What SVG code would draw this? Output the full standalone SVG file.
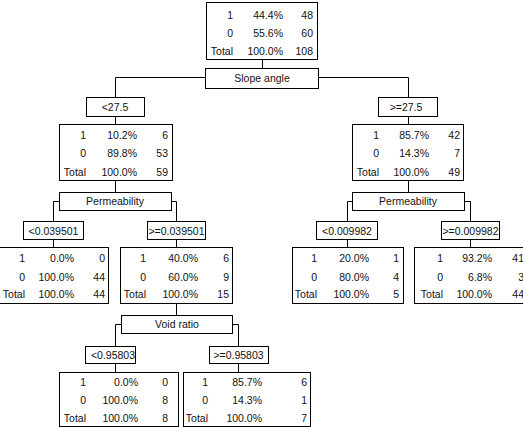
<svg xmlns="http://www.w3.org/2000/svg" width="523" height="427" viewBox="0 0 523 427">
<style>
rect{fill:#fff;stroke:#000;stroke-width:1}
text{font-family:"Liberation Sans",Arial,sans-serif;font-size:10.5px;fill:#111}
.e{text-anchor:end}
.m{text-anchor:middle}
.c path{fill:none;stroke:#000;stroke-width:1}
</style>
<rect x="0" y="0" width="523" height="427" style="stroke:none"/>
<g class="c" id="connectors">
<path d="M262.5 59 V68"/>
<path d="M205 77.5 H115.5 V97"/>
<path d="M318 77.5 H408.5 V97"/>
<path d="M115.5 116 V124"/>
<path d="M408.5 116 V124"/>
<path d="M115.5 180 V192"/>
<path d="M408.5 180 V192"/>
<path d="M59 201.5 H53.5 V221"/>
<path d="M171 201.5 H176.5 V221"/>
<path d="M352 201.5 H347.5 V221"/>
<path d="M464 201.5 H470.5 V221"/>
<path d="M53.5 239 V247"/>
<path d="M176.5 239 V247"/>
<path d="M347.5 239 V247"/>
<path d="M470.5 239 V247"/>
<path d="M176.5 303 V315"/>
<path d="M121 324.5 H115.5 V346"/>
<path d="M232 324.5 H238.5 V346"/>
<path d="M115.5 363 V372"/>
<path d="M238.5 363 V372"/>
</g>
<g id="node0">
<rect x="206.5" y="2.5" width="111" height="57"/>
<text class="e" x="233" y="19">1</text><text class="e" x="283" y="19">44.4%</text><text class="e" x="313" y="19">48</text>
<text class="e" x="233" y="37">0</text><text class="e" x="283" y="37">55.6%</text><text class="e" x="313" y="37">60</text>
<text class="e" x="233" y="55">Total</text><text class="e" x="283" y="55">100.0%</text><text class="e" x="313" y="55">108</text>
</g>
<g id="split0">
<rect x="205.5" y="68.5" width="113" height="20"/>
<text class="m" x="262" y="82">Slope angle</text>
</g>
<g id="label-lt27.5">
<rect x="86.5" y="97.5" width="58" height="19"/>
<text class="m" x="115" y="110.5">&lt;27.5</text>
</g>
<g id="label-ge27.5">
<rect x="378.5" y="97.5" width="59" height="19"/>
<text class="m" x="406" y="110.5">&gt;=27.5</text>
</g>
<g id="node1">
<rect x="59.5" y="124.5" width="113" height="56"/>
<text class="e" x="86" y="139">1</text><text class="e" x="137" y="139">10.2%</text><text class="e" x="168" y="139">6</text>
<text class="e" x="86" y="157">0</text><text class="e" x="137" y="157">89.8%</text><text class="e" x="168" y="157">53</text>
<text class="e" x="86" y="176">Total</text><text class="e" x="137" y="176">100.0%</text><text class="e" x="168" y="176">59</text>
</g>
<g id="node2">
<rect x="352.5" y="124.5" width="111" height="56"/>
<text class="e" x="379" y="139">1</text><text class="e" x="429" y="139">85.7%</text><text class="e" x="460" y="139">42</text>
<text class="e" x="379" y="157">0</text><text class="e" x="429" y="157">14.3%</text><text class="e" x="460" y="157">7</text>
<text class="e" x="379" y="176">Total</text><text class="e" x="429" y="176">100.0%</text><text class="e" x="460" y="176">49</text>
</g>
<g id="split1">
<rect x="59.5" y="192.5" width="112" height="18"/>
<text class="m" x="115" y="205">Permeability</text>
</g>
<g id="split2">
<rect x="352.5" y="192.5" width="112" height="18"/>
<text class="m" x="408" y="205">Permeability</text>
</g>
<g id="label-lt0.039501">
<rect x="23.5" y="221.5" width="60" height="18"/>
<text class="m" x="53.5" y="234.5">&lt;0.039501</text>
</g>
<g id="label-ge0.039501">
<rect x="147.5" y="221.5" width="58" height="18"/>
<text class="m" x="176.5" y="234.5">&gt;=0.039501</text>
</g>
<g id="label-lt0.009982">
<rect x="316.5" y="221.5" width="61" height="18"/>
<text class="m" x="347" y="234.5">&lt;0.009982</text>
</g>
<g id="label-ge0.009982">
<rect x="441.5" y="221.5" width="58" height="18"/>
<text class="m" x="470.5" y="234.5">&gt;=0.009982</text>
</g>
<g id="node3">
<rect x="-4.5" y="247.5" width="113" height="56"/>
<text class="e" x="25" y="262">1</text><text class="e" x="74" y="262">0.0%</text><text class="e" x="105" y="262">0</text>
<text class="e" x="25" y="281">0</text><text class="e" x="74" y="281">100.0%</text><text class="e" x="105" y="281">44</text>
<text class="e" x="25" y="298">Total</text><text class="e" x="74" y="298">100.0%</text><text class="e" x="105" y="298">44</text>
</g>
<g id="node4">
<rect x="120.5" y="247.5" width="112" height="56"/>
<text class="e" x="146" y="262">1</text><text class="e" x="198" y="262">40.0%</text><text class="e" x="229" y="262">6</text>
<text class="e" x="146" y="281">0</text><text class="e" x="198" y="281">60.0%</text><text class="e" x="229" y="281">9</text>
<text class="e" x="146" y="298">Total</text><text class="e" x="198" y="298">100.0%</text><text class="e" x="229" y="298">15</text>
</g>
<g id="node5">
<rect x="292.5" y="247.5" width="111" height="56"/>
<text class="e" x="317" y="262">1</text><text class="e" x="369" y="262">20.0%</text><text class="e" x="399" y="262">1</text>
<text class="e" x="317" y="281">0</text><text class="e" x="369" y="281">80.0%</text><text class="e" x="399" y="281">4</text>
<text class="e" x="317" y="298">Total</text><text class="e" x="369" y="298">100.0%</text><text class="e" x="399" y="298">5</text>
</g>
<g id="node6">
<rect x="414.5" y="247.5" width="112" height="56"/>
<text class="e" x="443" y="262">1</text><text class="e" x="492" y="262">93.2%</text><text class="e" x="524" y="262">41</text>
<text class="e" x="443" y="281">0</text><text class="e" x="492" y="281">6.8%</text><text class="e" x="524" y="281">3</text>
<text class="e" x="443" y="298">Total</text><text class="e" x="492" y="298">100.0%</text><text class="e" x="524" y="298">44</text>
</g>
<g id="split3">
<rect x="121.5" y="315.5" width="111" height="18"/>
<text class="m" x="177" y="328">Void ratio</text>
</g>
<g id="label-lt0.95803">
<rect x="85.5" y="346.5" width="50" height="17"/>
<text class="m" x="113" y="358.5">&lt;0.95803</text>
</g>
<g id="label-ge0.95803">
<rect x="209.5" y="346.5" width="59" height="17"/>
<text class="m" x="238.5" y="358.5">&gt;=0.95803</text>
</g>
<g id="node7">
<rect x="59.5" y="372.5" width="119" height="54"/>
<text class="e" x="86" y="386">1</text><text class="e" x="138" y="386">0.0%</text><text class="e" x="168" y="386">0</text>
<text class="e" x="86" y="404">0</text><text class="e" x="138" y="404">100.0%</text><text class="e" x="168" y="404">8</text>
<text class="e" x="86" y="422">Total</text><text class="e" x="138" y="422">100.0%</text><text class="e" x="168" y="422">8</text>
</g>
<g id="node8">
<rect x="183.5" y="372.5" width="127" height="54"/>
<text class="e" x="208" y="386">1</text><text class="e" x="262" y="386">85.7%</text><text class="e" x="307" y="386">6</text>
<text class="e" x="208" y="404">0</text><text class="e" x="262" y="404">14.3%</text><text class="e" x="307" y="404">1</text>
<text class="e" x="208" y="422">Total</text><text class="e" x="262" y="422">100.0%</text><text class="e" x="307" y="422">7</text>
</g>
</svg>
